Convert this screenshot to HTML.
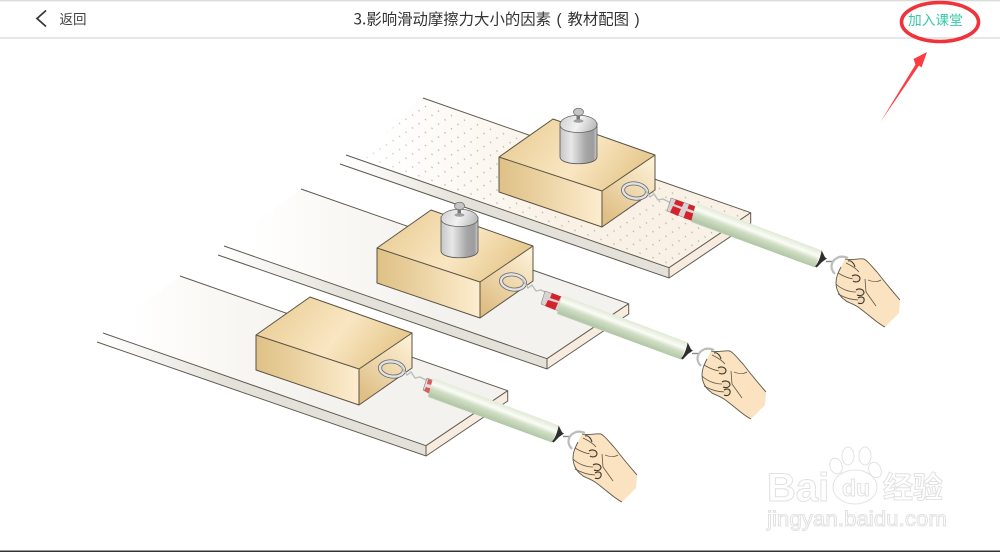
<!DOCTYPE html>
<html lang="zh">
<head>
<meta charset="utf-8">
<title>3.影响滑动摩擦力大小的因素（教材配图）</title>
<style>
html,body{margin:0;padding:0;background:#fff;width:1000px;height:552px;overflow:hidden}
svg{display:block}
text{font-family:"Liberation Sans","Noto Sans CJK SC",sans-serif}
.cjk{font-family:"Noto Sans CJK SC","Liberation Sans",sans-serif}
</style>
</head>
<body>
<svg width="1000" height="552" viewBox="0 0 1000 552" xmlns="http://www.w3.org/2000/svg">
<defs>
  <linearGradient id="surfA" gradientUnits="userSpaceOnUse" x1="385" y1="0" x2="560" y2="0">
    <stop offset="0" stop-color="#fff"/><stop offset="1" stop-color="#f9f1e6"/>
  </linearGradient>
  <linearGradient id="surfB" gradientUnits="userSpaceOnUse" x1="375" y1="0" x2="560" y2="0">
    <stop offset="0" stop-color="#fff"/><stop offset=".45" stop-color="#faf8f4"/><stop offset="1" stop-color="#f4f2ee"/>
  </linearGradient>
  <linearGradient id="side" gradientUnits="userSpaceOnUse" x1="345" y1="0" x2="470" y2="0">
    <stop offset="0" stop-color="#fff"/><stop offset="1" stop-color="#e3e1d9"/>
  </linearGradient>
  <pattern id="dots" width="13" height="13" patternUnits="userSpaceOnUse" patternTransform="skewY(19.3)">
    <circle cx="3" cy="3" r=".75" fill="#b3aea3"/>
    <circle cx="9.500" cy="9.500" r=".75" fill="#b3aea3"/>
  </pattern>
  <linearGradient id="dotFade" gradientUnits="userSpaceOnUse" x1="355" y1="0" x2="430" y2="0">
    <stop offset="0" stop-color="#666"/><stop offset="1" stop-color="#fff"/>
  </linearGradient>
  <mask id="dotMask" maskUnits="userSpaceOnUse" x="340" y="90" width="420" height="190">
    <rect x="340" y="90" width="420" height="190" fill="url(#dotFade)"/>
  </mask>
  <linearGradient id="topF" gradientUnits="userSpaceOnUse" x1="530" y1="120" x2="620" y2="190">
    <stop offset="0" stop-color="#ecd19c"/><stop offset=".55" stop-color="#f9e6c2"/><stop offset="1" stop-color="#e8cb92"/>
  </linearGradient>
  <linearGradient id="frontF" gradientUnits="userSpaceOnUse" x1="499" y1="0" x2="602" y2="0">
    <stop offset="0" stop-color="#dfc187"/><stop offset=".35" stop-color="#e9cf9d"/><stop offset="1" stop-color="#fdedcf"/>
  </linearGradient>
  <linearGradient id="rightF" gradientUnits="userSpaceOnUse" x1="605" y1="215" x2="650" y2="160">
    <stop offset="0" stop-color="#dfbf85"/><stop offset="1" stop-color="#fdf0d6"/>
  </linearGradient>
  <linearGradient id="metal" gradientUnits="userSpaceOnUse" x1="560" y1="0" x2="597" y2="0">
    <stop offset="0" stop-color="#c6c6c6"/><stop offset=".3" stop-color="#e8e8e8"/><stop offset=".7" stop-color="#a6a6a6"/><stop offset=".9" stop-color="#9c9c9c"/><stop offset="1" stop-color="#cfcfcf"/>
  </linearGradient>
  <linearGradient id="metalTop" gradientUnits="userSpaceOnUse" x1="560" y1="114" x2="597" y2="130">
    <stop offset="0" stop-color="#cdcdcd"/><stop offset=".5" stop-color="#f2f2f2"/><stop offset="1" stop-color="#b4b4b4"/>
  </linearGradient>
  <linearGradient id="tubeG" gradientUnits="userSpaceOnUse" x1="762" y1="222" x2="752" y2="248">
    <stop offset="0" stop-color="#d0dcc5"/><stop offset=".25" stop-color="#e6eede"/><stop offset=".42" stop-color="#fbfcf6"/><stop offset=".58" stop-color="#d0dec3"/><stop offset=".85" stop-color="#b2c6a7"/><stop offset="1" stop-color="#dbe4d3"/>
  </linearGradient>

  <g id="block">
    <polygon points="499,157 553,119 655,155 602,191" fill="url(#topF)"/>
    <polygon points="499,157 602,191 602,227 499,192" fill="url(#frontF)"/>
    <polygon points="602,191 655,155 655,190 602,227" fill="url(#rightF)"/>
    <path d="M499,157 553,119 655,155 602,191ZM499,157V192L602,227V191M602,227 655,190V155" fill="none" stroke="#5b5243" stroke-width="1" stroke-linejoin="round"/>
    <ellipse cx="635" cy="191" rx="12" ry="7.500" transform="rotate(8 635 191)" fill="none" stroke="#666" stroke-width="4"/>
    <ellipse cx="635" cy="191" rx="12" ry="7.500" transform="rotate(8 635 191)" fill="none" stroke="#e2e2e2" stroke-width="2.400"/>
  </g>

  <g id="weight">
    <path d="M560,123H597V157C597,166 560,166 560,157Z" fill="url(#metal)" stroke="#555" stroke-width=".8"/>
    <path d="M560,125C560,112 597,112 597,125C597,135 560,135 560,125Z" fill="url(#metalTop)" stroke="#666" stroke-width=".8"/>
    <rect x="576.500" y="113" width="3.500" height="8" fill="#777"/>
    <ellipse cx="578.500" cy="121" rx="5" ry="1.800" fill="#a0a0a0"/>
    <ellipse cx="578.500" cy="112" rx="5" ry="3.800" fill="#c4c4c4" stroke="#666" stroke-width=".7"/>
  </g>

  <g id="spring">
    <polygon points="696,203 822,250.500 815,267.500 691,222" fill="url(#tubeG)"/>
    <path d="M821.700,250.500 825,257.300 827,258.500 822,262 816.700,267.500 815,266.500C819,262 820.500,256 821.700,250.500Z" fill="#2e2e2a"/>
    <path d="M826,261.500H834" stroke="#888" stroke-width="1.400"/>
    <path d="M835,274C829,268 831,260 839,257C843,256 846,257 848,258" fill="none" stroke="#bcbcbc" stroke-width="2.200"/>
    <path d="M845,259 864,259 872,267 883,280 900,300 899,313 885,327 872,318 858,307 845,300 837,292 836,283 838,273Z" fill="#fbe2c0"/>
    <path d="M845,259C852,261 858,258 864,259C869,262 872,267 877,272 884,281 893,292 900,300M885,327C878,324 868,314 858,307 852,303 846,302 845,300 840,297 836,290 836,283 836,277 838,273 841,267 845,259" fill="none" stroke="#5d5848" stroke-width=".9"/>
    <path d="M838,273C843,276 849,279 855,279M836,284C841,289 849,292 856,292M838,294C845,298 851,300 859,300M868,280C873,282 878,282 881,280M865,279 866,292 876,306M846,263C850,265 855,267 859,272" fill="none" stroke="#5d5848" stroke-width=".8"/>
    <path d="M852,276C855,274 860,275 860,279 859,283 854,282 853,281M856,290C859,288 864,289 864,293 863,296 859,296 857,295M858,298C861,296 865,297 864,301 863,304 860,304 858,303" fill="#f5d8b4" stroke="#3a362c" stroke-width="1.100"/>
    <path d="M848,261C851,260 854,263 855,267" fill="none" stroke="#3a362c" stroke-width="1"/>
  </g>

  <path id="wire" d="M644,188 650,197 654,194 658,200 663,199 671,203" fill="none" stroke="#b9bdb9" stroke-width="1.400"/>
</defs>

<rect width="1000" height="552" fill="#fff"/>

<!-- header -->
<rect x="0" y="0" width="1000" height="1.400" fill="#dcdcdc"/>
<rect x="0" y="37" width="1000" height="2" fill="#e6e6e6"/>
<path d="M46,10.500 37,18.500 46,26.500" fill="none" stroke="#333" stroke-width="1.700"/>
<text class="cjk" x="59.500" y="24" font-size="13.500" fill="#444">返回</text>
<text class="cjk" x="353.500" y="24.500" font-size="15.400" fill="#333">3.影响滑动摩擦力大小的因素</text>
<text x="556.500" y="24.500" font-size="15.400" fill="#333">(</text>
<text class="cjk" x="567.500" y="24.500" font-size="15.400" fill="#333">教材配图</text>
<text x="634.500" y="24.500" font-size="15.400" fill="#333">)</text>
<text class="cjk" x="908" y="25" font-size="13.700" fill="#35c9a9">加入课堂</text>
<ellipse cx="940" cy="22" rx="38.500" ry="19.500" fill="none" stroke="#f0323a" stroke-width="3.600"/>
<polygon points="880.500,122 915.500,64.500 913.500,59 927,52 921.500,67.500 919,65.500" fill="#fb3c41"/>

<!-- set 1 (dotted) -->
<g>
  <polygon points="340,164 346,155 669,267.700 669,278" fill="url(#side)"/>
  <polygon points="669,267.700 750.700,212.700 750.700,223 669,278" fill="#f7ecdf"/>
  <polygon points="423,98 750.700,212.700 669,267.700 346,155" fill="url(#surfA)"/>
  <polygon points="425,103 748,213 669,265 357,155" fill="url(#dots)" mask="url(#dotMask)"/>
  <path d="M423,98 750.700,212.700V223L669,278 340,164M346,155 669,267.700V278M669,267.700 750.700,212.700" fill="none" stroke="#5f5a4e" stroke-width="1"/>
  <use href="#block"/>
  <use href="#weight"/>
  <use href="#wire"/>
  <polygon points="671,198 697,207 693,221 667,211" fill="#d8d3d0" stroke="#777" stroke-width=".5"/>
  <polygon points="676,199.500 684,202.500 682,207 674,204" fill="#d3222b"/>
  <polygon points="689,204.500 697,207 695.500,211.500 687.500,208.500" fill="#d3222b"/>
  <polygon points="673,206 681,209 678,216 670,212.500" fill="#d3222b"/>
  <polygon points="686,211 695,214 693,221 683.500,218" fill="#d3222b"/>
  <use href="#spring"/>
</g>

<!-- set 2 -->
<g>
  <g transform="translate(-122 91)">
    <polygon points="340,164 346,155 669,267.700 669,278" fill="url(#side)"/>
    <polygon points="669,267.700 750.700,212.700 750.700,223 669,278" fill="#f7ecdf"/>
    <polygon points="423,98 750.700,212.700 669,267.700 346,155" fill="url(#surfB)"/>
    <path d="M423,98 750.700,212.700V223L669,278 340,164M346,155 669,267.700V278M669,267.700 750.700,212.700" fill="none" stroke="#5f5a4e" stroke-width="1"/>
    <use href="#block"/>
    <use href="#wire"/>
  </g>
  <use href="#weight" transform="translate(-119 94)"/>
  <polygon points="545,291 565,298 561,312 541,304" fill="#d8d3d0" stroke="#777" stroke-width=".5"/>
  <polygon points="552,293 561,296.500 559,301 550,298" fill="#d3222b"/>
  <polygon points="548,300 558,303 555,310 545,306" fill="#d3222b"/>
  <use href="#spring" transform="translate(-134 92)"/>
</g>

<!-- set 3 -->
<g>
  <g transform="translate(-243 178)">
    <polygon points="340,164 346,155 669,267.700 669,278" fill="url(#side)"/>
    <polygon points="669,267.700 750.700,212.700 750.700,223 669,278" fill="#f7ecdf"/>
    <polygon points="423,98 750.700,212.700 669,267.700 346,155" fill="url(#surfB)"/>
    <path d="M423,98 750.700,212.700V223L669,278 340,164M346,155 669,267.700V278M669,267.700 750.700,212.700" fill="none" stroke="#5f5a4e" stroke-width="1"/>
    <use href="#block"/>
    <use href="#wire"/>
  </g>
  <polygon points="427,378 437,382 432,395 423,390" fill="#e6dcd8" stroke="#666" stroke-width=".5"/>
  <polygon points="428,379 436,382 434.500,385.500 427,384" fill="#dc5a5a"/>
  <polygon points="426,387 432.500,389 431,394 424,390.500" fill="#dc5a5a"/>
  <use href="#spring" transform="translate(-263 175)"/>
</g>

<!-- watermark -->
<g fill="#fff" stroke="#e2e2e2" stroke-width="1">
  <text x="767" y="501" font-size="40" font-weight="700">Bai</text>
  <ellipse cx="855" cy="487" rx="22" ry="17"/>
  <ellipse cx="836" cy="466" rx="6" ry="8" transform="rotate(-20 836 466)"/>
  <ellipse cx="848" cy="456" rx="6" ry="9"/>
  <ellipse cx="865" cy="456" rx="6" ry="9"/>
  <ellipse cx="875" cy="470" rx="6" ry="8" transform="rotate(-25 875 470)"/>
  <text x="842" y="496" font-size="23" font-weight="700">du</text>
  <text class="cjk" x="883" y="498" font-size="30" font-weight="700">经验</text>
  <text x="767" y="526" font-size="21" textLength="180" lengthAdjust="spacingAndGlyphs">jingyan.baidu.com</text>
</g>

<!-- bottom edge -->
<rect x="0" y="550.500" width="1000" height="1.500" fill="#333"/>
</svg>
</body>
</html>
